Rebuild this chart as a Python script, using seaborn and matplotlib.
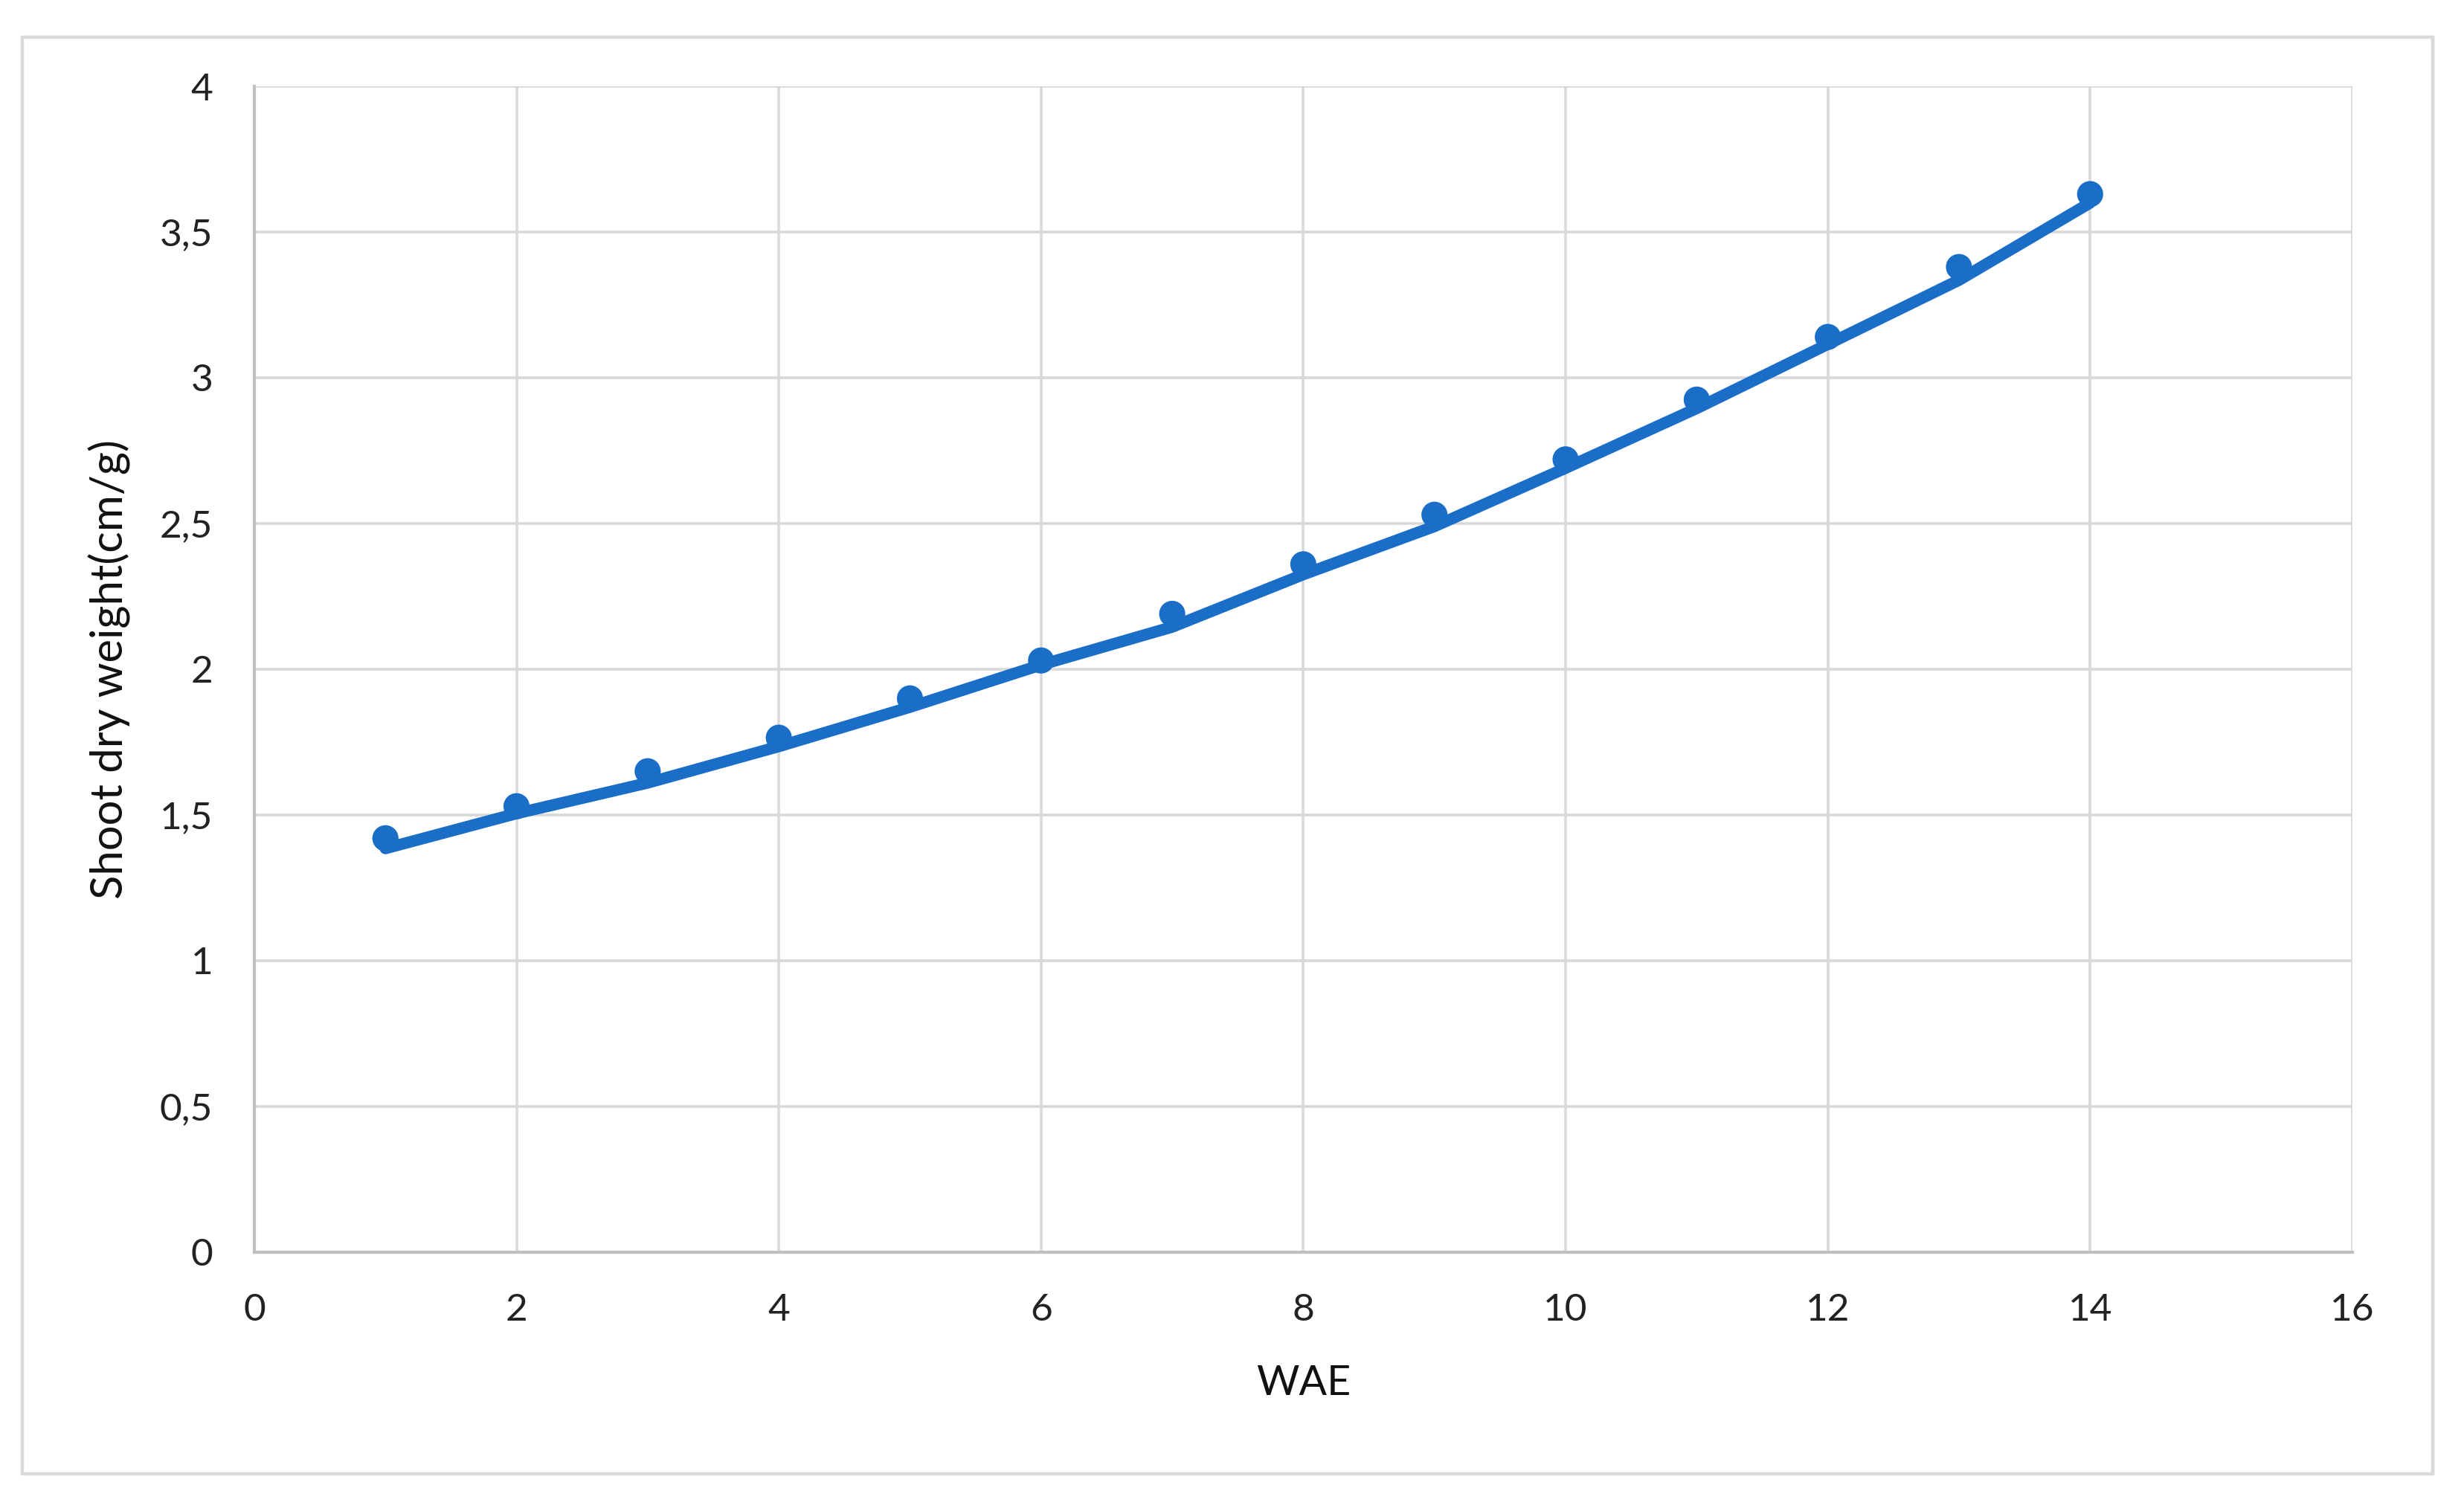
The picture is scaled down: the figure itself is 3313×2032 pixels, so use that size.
import numpy as np
import pandas as pd
import matplotlib
matplotlib.use("Agg")
import matplotlib.pyplot as plt
import seaborn as sns
from matplotlib.ticker import FuncFormatter, MultipleLocator
from matplotlib.patches import Rectangle

# --- data ---
wae = [1, 2, 3, 4, 5, 6, 7, 8, 9, 10, 11, 12, 13, 14]
shoot_dry_weight = [1.42, 1.53, 1.65, 1.765, 1.90, 2.03, 2.19, 2.36, 2.53, 2.72, 2.925, 3.14, 3.38, 3.63]
trend_values = [1.385, 1.505, 1.61, 1.735, 1.87, 2.015, 2.145, 2.325, 2.49, 2.69, 2.895, 3.115, 3.335, 3.60]

x_label = "WAE"
y_label = "Shoot dry weight(cm/g)"

blue = "#1b6ec8"
grid_gray = "#d9d9d9"

sns.set_style("white")
plt.rcParams['font.family'] = ['Lato', 'DejaVu Sans']

df = pd.DataFrame({"wae": wae, "obs": shoot_dry_weight, "fit": trend_values})

fig = plt.figure(figsize=(3313 / 200, 2032 / 200), dpi=200)
ax = fig.add_axes([0.1032, 0.1713, 0.9547 - 0.1032, 0.9429 - 0.1713])

sns.lineplot(data=df, x="wae", y="fit", ax=ax, color=blue, linewidth=5.6, zorder=3)
sns.scatterplot(data=df, x="wae", y="obs", ax=ax, color=blue, s=160,
                edgecolor="none", zorder=4)

ax.set_xlim(0, 16)
ax.set_ylim(0, 4)
ax.xaxis.set_major_locator(MultipleLocator(2))
ax.yaxis.set_major_locator(MultipleLocator(0.5))
comma = FuncFormatter(lambda v, p: f"{v:g}".replace(".", ","))
ax.xaxis.set_major_formatter(comma)
ax.yaxis.set_major_formatter(comma)

ax.grid(True, color=grid_gray, linewidth=1.3, zorder=0)
ax.set_axisbelow(True)
for side in ["top", "right"]:
    ax.spines[side].set_visible(False)
for side in ["left", "bottom"]:
    ax.spines[side].set_color("#bfbfbf")
    ax.spines[side].set_linewidth(1.5)

ax.tick_params(axis="both", length=0, labelsize=18.5, colors="#222222")
ax.tick_params(axis="y", pad=20)
ax.tick_params(axis="x", pad=20)

ax.set_xlabel(x_label, fontsize=20, labelpad=18, color="#111111")
ax.set_ylabel(y_label, fontsize=21.5, labelpad=14, color="#111111")

# outer chart border
fig.patches.append(Rectangle((30 / 3313, 1 - 1982 / 2032), (3271 - 30) / 3313, (1982 - 50) / 2032,
                             transform=fig.transFigure, fill=False,
                             edgecolor=grid_gray, linewidth=1.6))

fig.savefig("out.png", dpi=200, facecolor="white")
